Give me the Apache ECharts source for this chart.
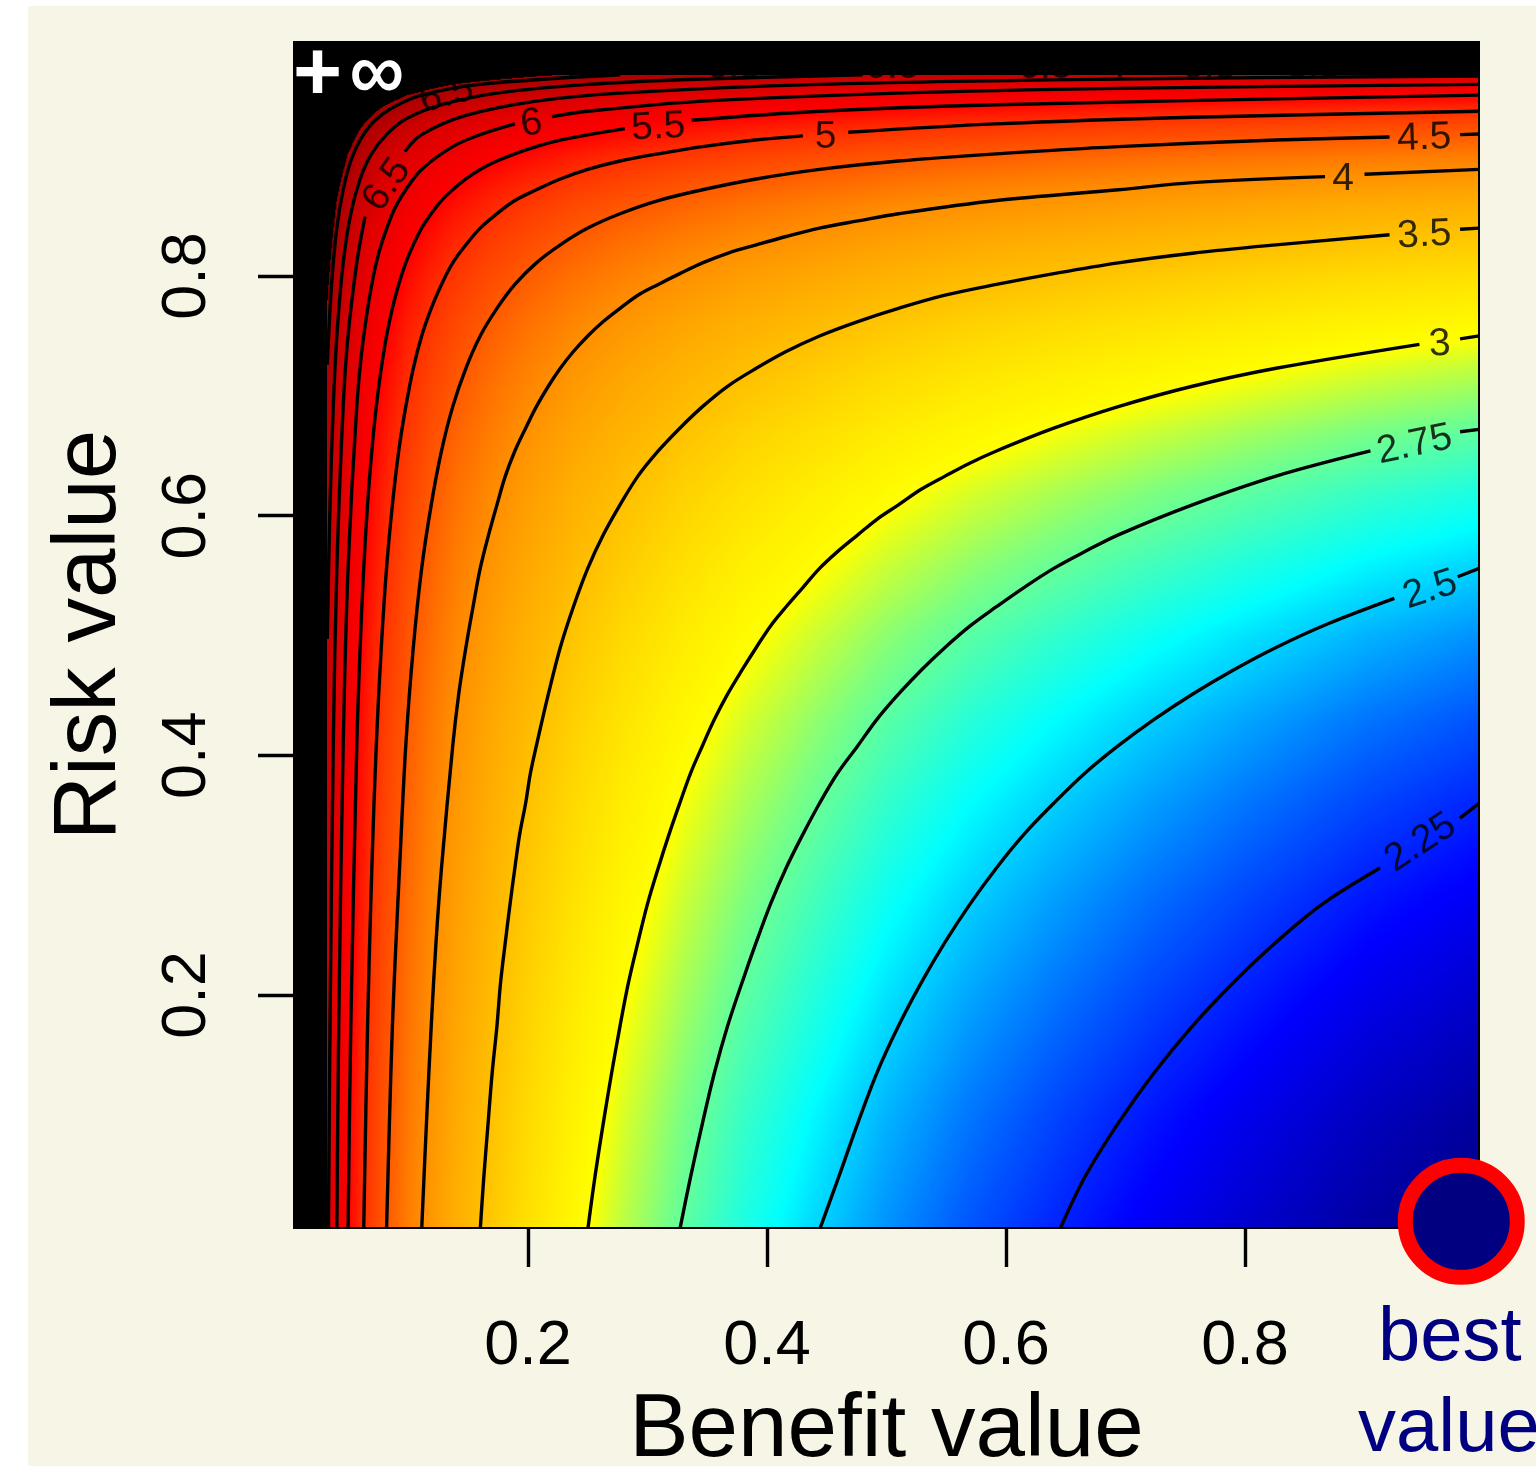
<!DOCTYPE html>
<html><head><meta charset="utf-8">
<style>html,body{margin:0;padding:0;background:#fff}
#c{position:absolute;left:0;top:0;width:1536px;height:1466px}</style>
<script src="https://cdn.jsdelivr.net/npm/echarts@6/dist/echarts.min.js"></script>
</head><body><div id="c"></div>
<script>
const xTicks=[0.2,0.4,0.6,0.8];
const yTicks=[0.2,0.4,0.6,0.8];
const heatX=[.032,.04,.05,.06,.07,.08,.1,.12,.14,.17,.2,.24,.28,.33,.38,.44,.5,.57,.64,.72,.8,.9,.996];
const heatY=[.004,.1,.2,.28,.36,.43,.5,.56,.62,.67,.72,.76,.8,.83,.86,.88,.9,.92,.93,.94,.95,.96,.968];
const heatRows=[
[6.59,6.00,5.47,5.08,4.78,4.54,4.16,3.89,3.67,3.43,3.24,3.04,2.89,2.74,2.62,2.51,2.41,2.32,2.25,2.18,2.12,2.05,2.00],
[6.64,6.05,5.52,5.13,4.83,4.59,4.21,3.94,3.72,3.48,3.29,3.09,2.94,2.79,2.67,2.56,2.46,2.37,2.30,2.23,2.17,2.10,2.05],
[6.71,6.12,5.59,5.20,4.90,4.66,4.28,4.01,3.79,3.55,3.36,3.16,3.01,2.86,2.74,2.63,2.53,2.44,2.37,2.30,2.24,2.17,2.12],
[6.77,6.18,5.65,5.26,4.96,4.72,4.34,4.07,3.85,3.61,3.42,3.22,3.07,2.92,2.80,2.69,2.59,2.50,2.43,2.36,2.30,2.23,2.18],
[6.84,6.25,5.72,5.33,5.03,4.79,4.41,4.14,3.92,3.68,3.49,3.29,3.14,2.99,2.87,2.76,2.66,2.57,2.50,2.43,2.37,2.30,2.25],
[6.91,6.32,5.79,5.40,5.10,4.86,4.48,4.21,3.99,3.75,3.56,3.36,3.21,3.06,2.94,2.83,2.73,2.64,2.57,2.50,2.44,2.37,2.32],
[7.00,6.41,5.88,5.49,5.19,4.95,4.57,4.30,4.08,3.84,3.65,3.45,3.30,3.15,3.03,2.92,2.82,2.73,2.66,2.59,2.53,2.46,2.41],
[7.10,6.51,5.98,5.59,5.29,5.05,4.67,4.40,4.18,3.94,3.75,3.55,3.40,3.25,3.13,3.02,2.92,2.83,2.76,2.69,2.63,2.56,2.51],
[7.21,6.62,6.09,5.70,5.40,5.16,4.78,4.51,4.29,4.05,3.86,3.66,3.51,3.36,3.24,3.13,3.03,2.94,2.87,2.80,2.74,2.67,2.62],
[7.33,6.74,6.21,5.82,5.52,5.28,4.90,4.63,4.41,4.17,3.98,3.78,3.63,3.48,3.36,3.25,3.15,3.06,2.99,2.92,2.86,2.79,2.74],
[7.48,6.89,6.36,5.97,5.67,5.43,5.05,4.78,4.56,4.32,4.13,3.93,3.78,3.63,3.51,3.40,3.30,3.21,3.14,3.07,3.01,2.94,2.89],
[7.63,7.04,6.51,6.12,5.82,5.58,5.20,4.93,4.71,4.47,4.28,4.08,3.93,3.78,3.66,3.55,3.45,3.36,3.29,3.22,3.16,3.09,3.04],
[7.83,7.24,6.71,6.32,6.02,5.78,5.40,5.13,4.91,4.67,4.48,4.28,4.13,3.98,3.86,3.75,3.65,3.56,3.49,3.42,3.36,3.29,3.24],
[8.02,7.43,6.90,6.51,6.21,5.97,5.59,5.32,5.10,4.86,4.67,4.47,4.32,4.17,4.05,3.94,3.84,3.75,3.68,3.61,3.55,3.48,3.43],
[8.26,7.67,7.14,6.75,6.45,6.21,5.83,5.56,5.34,5.10,4.91,4.71,4.56,4.41,4.29,4.18,4.08,3.99,3.92,3.85,3.79,3.72,3.67],
[8.48,7.89,7.36,6.97,6.67,6.43,6.05,5.78,5.56,5.32,5.13,4.93,4.78,4.63,4.51,4.40,4.30,4.21,4.14,4.07,4.01,3.94,3.89],
[8.75,8.16,7.63,7.24,6.94,6.70,6.32,6.05,5.83,5.59,5.40,5.20,5.05,4.90,4.78,4.67,4.57,4.48,4.41,4.34,4.28,4.21,4.16],
[9.13,8.54,8.01,7.62,7.32,7.08,6.70,6.43,6.21,5.97,5.78,5.58,5.43,5.28,5.16,5.05,4.95,4.86,4.79,4.72,4.66,4.59,4.54],
[9.37,8.78,8.25,7.86,7.56,7.32,6.94,6.67,6.45,6.21,6.02,5.82,5.67,5.52,5.40,5.29,5.19,5.10,5.03,4.96,4.90,4.83,4.78],
[9.67,9.08,8.55,8.16,7.86,7.62,7.24,6.97,6.75,6.51,6.32,6.12,5.97,5.82,5.70,5.59,5.49,5.40,5.33,5.26,5.20,5.13,5.08],
[10.06,9.47,8.94,8.55,8.25,8.01,7.63,7.36,7.14,6.90,6.71,6.51,6.36,6.21,6.09,5.98,5.88,5.79,5.72,5.65,5.59,5.52,5.47],
[10.59,10.00,9.47,9.08,8.78,8.54,8.16,7.89,7.67,7.43,7.24,7.04,6.89,6.74,6.62,6.51,6.41,6.32,6.25,6.18,6.12,6.05,6.00],
[11.18,10.59,10.06,9.67,9.37,9.13,8.75,8.48,8.26,8.02,7.83,7.63,7.48,7.33,7.21,7.10,7.00,6.91,6.84,6.77,6.71,6.64,6.59]
];
const colorLevels=[2.0,2.2,2.57,2.8,3.0,3.5,4.0,4.5,5.0,5.5,6.5,7.7];
const colorValues=['#00007f','#0000ff','#00ffff','#7fff7f','#ffff00','#ffc000','#ff9000','#ff5a00','#ff3000','#ff0000','#d80000','#a00000'];
const blackAbove=7.7;

const c225=[[.645,.004],[.666,.048],[.694,.093],[.724,.135],[.756,.174],[.79,.21],[.826,.244],[.865,.276],[.913,.306],null,[.98,.3475],[.996,.36]];
const c250=[[.444,.004],[.46,.048],[.476,.093],[.492,.135],[.51,.174],[.529,.21],[.549,.244],[.57,.276],[.592,.306],[.615,.334],[.64,.36],[.666,.385],[.694,.408],[.724,.43],[.756,.451],[.79,.471],[.826,.49],[.87,.51],[.925,.531],null,[.978,.549],[.996,.556]];
const c275=[[.327,.004],[.336,.048],[.346,.093],[.356,.135],[.367,.174],[.379,.21],[.391,.244],[.403,.276],[.416,.306],[.43,.334],[.444,.36],[.459,.385],[.476,.408],[.492,.43],[.51,.451],[.529,.471],[.549,.49],[.57,.508],[.592,.524],[.615,.54],[.64,.556],[.666,.57],[.694,.584],[.756,.609],[.826,.633],[.905,.654],null,[.98,.67],[.996,.672]];
const c300=[[.25,.004],[.256,.048],[.263,.093],[.27,.135],[.277,.174],[.284,.21],[.292,.244],[.3,.276],[.309,.306],[.318,.334],[.327,.36],[.336,.385],[.346,.408],[.356,.43],[.367,.451],[.379,.471],[.391,.49],[.403,.508],[.416,.524],[.43,.54],[.444,.556],[.459,.57],[.476,.584],[.492,.597],[.51,.609],[.529,.622],[.549,.633],[.57,.644],[.592,.654],[.64,.673],[.694,.691],[.756,.708],[.826,.723],[.946,.743],null,[.98,.7475],[.996,.75]];
const c350=[[.16,.004],[.163,.048],[.1666,.093],[.17,.135],[.174,.174],[.177,.21],[.181,.244],[.185,.276],[.189,.306],[.193,.334],[.198,.36],[.202,.385],[.207,.408],[.217,.451],[.227,.49],[.238,.524],[.25,.556],[.263,.584],[.277,.609],[.292,.633],[.309,.654],[.327,.673],[.346,.691],[.367,.708],[.391,.723],[.416,.737],[.444,.75],[.476,.762],[.51,.773],[.549,.784],[.592,.793],[.64,.802],[.694,.811],[.756,.819],[.826,.826],[.921,.8345],null,[.98,.839],[.996,.84]];
const c400=[[.111,.004],[.115,.093],[.119,.174],[.123,.244],[.1276,.306],[.137,.408],[.142,.451],[.148,.49],[.154,.524],[.16,.556],[.167,.584],[.174,.609],[.181,.633],[.189,.654],[.198,.673],[.207,.691],[.217,.708],[.227,.723],[.238,.737],[.25,.75],[.263,.762],[.277,.773],[.292,.784],[.309,.793],[.327,.802],[.346,.811],[.367,.819],[.391,.826],[.416,.833],[.444,.84],[.476,.846],[.51,.852],[.592,.863],[.694,.872],[.756,.878],[.867,.883],null,[.9,.885],[.996,.889]];
const c450=[[.0816,.004],[.084,.093],[.0865,.174],[.0895,.244],[.0925,.306],[.0977,.408],[.104,.49],[.111,.556],[.119,.609],[.1276,.654],[.137,.691],[.148,.723],[.16,.75],[.174,.773],[.189,.793],[.207,.811],[.227,.826],[.25,.84],[.277,.852],[.309,.863],[.346,.872],[.391,.881],[.444,.889],[.51,.896],[.592,.902],[.694,.908],[.826,.9135],[.921,.916],null,[.98,.918],[.996,.9185]];
const c500=[[.0625,.004],[.0657,.174],[.0693,.306],[.073,.408],[.0772,.49],[.0816,.556],[.0865,.609],[.0918,.654],[.0977,.691],[.104,.723],[.111,.75],[.119,.773],[.1276,.793],[.137,.811],[.148,.826],[.16,.84],[.174,.852],[.189,.863],[.207,.872],[.227,.881],[.25,.889],[.277,.896],[.309,.902],[.346,.908],[.39,.9135],[.43,.917],null,[.468,.92],[.592,.927],[.756,.9325],[.996,.9375]];
const c550=[[.0494,.004],[.0517,.174],[.0567,.408],[.0595,.49],[.0625,.556],[.0657,.609],[.0693,.654],[.073,.691],[.0772,.723],[.0816,.75],[.0865,.773],[.0918,.793],[.0977,.811],[.104,.826],[.111,.84],[.119,.852],[.1276,.863],[.137,.872],[.148,.881],[.16,.889],[.174,.896],[.189,.902],[.207,.908],[.227,.9135],[.281,.923],null,[.337,.93],[.444,.9375],[.592,.943],[.996,.951]];
const c600=[[.04,.004],[.0416,.174],[.0453,.408],[.0494,.556],[.0567,.691],[.0625,.75],[.073,.811],[.0865,.852],[.0977,.872],[.111,.889],[.137,.908],[.16,.918],[.189,.927],null,[.22,.933],[.25,.9375],[.346,.946],[.51,.9527],[.694,.9566],[.996,.96]];
const c650=[[.033,.004],[.0343,.174],[.037,.408],[.04,.556],[.0453,.691],[.0494,.75],[.0567,.811],[.0636,.8496],null,[.097,.904],[.111,.918],[.148,.934],[.207,.946],[.277,.9527],[.444,.96],[.694,.9644],[.996,.967]];
const c700=[[.032,.497],[.0343,.609],[.037,.691],[.04,.75],[.0453,.811],[.0517,.852],[.0595,.881],[.069,.902],[.0816,.918],[.0977,.931],[.1276,.943],[.174,.9527],[.25,.96],[.346,.9644],[.48,.968]];
const c750=[[.032,.726],[.0356,.793],[.04,.84],[.0453,.872],[.0517,.896],[.0595,.9135],[.071,.929],[.0865,.9405],[.111,.951],[.16,.96],[.277,.968]];
const contours=[c225,c250,c275,c300,c350,c400,c450,c500,c550,c600,c650,c700,c750];

const labelText=['2.25','2.5','2.75','3','3.5','4','4.5','5','5.5','6','6.5','6.5','7','6.5','7','6.5','6.5','7','6.5','6.5','6.5'];
const labelX=[.947,.955,.942,.963,.950,.882,.950,.449,.309,.203,.082,.132,.238,.372,.438,.505,.633,.697,.77,.857,.945];
const labelY=[.327,.538,.659,.743,.834,.881,.915,.916,.924,.927,.876,.951,.974,.974,.974,.974,.974,.974,.974,.974,.974];
const labelAngle=[33,18,12,3,3,0,2,0,3,8,55,15,0,0,0,0,0,0,0,0,0];
const bestPoint=[[0.981,0.011]];

const sans='"Liberation Sans",Arial,sans-serif';
const chart=echarts.init(document.getElementById('c'),null,{renderer:'canvas'});

function colorTable(){
  const cv=document.createElement('canvas');cv.width=2048;cv.height=1;
  const g=cv.getContext('2d');
  const lo=colorLevels[0],hi=colorLevels[colorLevels.length-1];
  const gr=g.createLinearGradient(0,0,2048,0);
  colorLevels.forEach((l,i)=>gr.addColorStop((l-lo)/(hi-lo),colorValues[i]));
  g.fillStyle=gr;g.fillRect(0,0,2048,1);
  return {d:g.getImageData(0,0,2048,1).data,lo,hi};
}
function locate(arr,v){let i=0;while(i<arr.length-2&&arr[i+1]<v)i++;return [i,(v-arr[i])/(arr[i+1]-arr[i])];}
function fieldCanvas(w,h){
  const cv=document.createElement('canvas');cv.width=w;cv.height=h;
  const g=cv.getContext('2d');const img=g.createImageData(w,h);const T=colorTable();
  const xl=heatX[0],xr=heatX[heatX.length-1],yb=heatY[0],yt=heatY[heatY.length-1];
  const cols=[];for(let i=0;i<w;i++)cols.push(locate(heatX,xl+(xr-xl)*(i+.5)/w));
  for(let j=0;j<h;j++){
    const [r,t]=locate(heatY,yt-(yt-yb)*(j+.5)/h);
    const R0=heatRows[r],R1=heatRows[r+1];
    for(let i=0;i<w;i++){
      const [c,s]=cols[i];
      const v=(R0[c]*(1-s)+R0[c+1]*s)*(1-t)+(R1[c]*(1-s)+R1[c+1]*s)*t;
      const o=(j*w+i)*4;
      if(v>blackAbove){img.data[o+3]=0;continue;}
      const k=Math.max(0,Math.min(2047,Math.round((v-T.lo)/(T.hi-T.lo)*2047)))*4;
      img.data[o]=T.d[k];img.data[o+1]=T.d[k+1];img.data[o+2]=T.d[k+2];img.data[o+3]=255;
    }
  }
  g.putImageData(img,0,0);return cv;
}
const field=fieldCanvas(1150,1150);

const contourSeries=contours.map(pts=>({
  type:'line',data:pts.map(p=>p?p:[null,null]),showSymbol:false,symbol:'none',smooth:0.35,
  connectNulls:false,silent:true,z:5,lineStyle:{color:'#000',width:3.4},animation:false
}));

chart.setOption({
  animation:false,
  backgroundColor:'rgba(0,0,0,0)',
  grid:{left:295,top:43,width:1183,height:1184,show:true,backgroundColor:'#000',borderColor:'#000',borderWidth:4,outerBoundsMode:'none',containLabel:false},
  xAxis:{type:'value',min:.005,max:.995,name:'Benefit value',nameLocation:'middle',nameGap:160,
    nameTextStyle:{fontFamily:sans,fontSize:89,color:'#000'},
    axisLine:{show:true,lineStyle:{color:'#000',width:4}},
    axisTick:{show:true,length:40,lineStyle:{color:'#000',width:3.4},customValues:xTicks},
    axisLabel:{show:true,margin:88,fontFamily:sans,fontSize:63,color:'#000',customValues:xTicks,formatter:v=>v.toFixed(1)},
    splitLine:{show:false}},
  yAxis:{type:'value',min:.0063,max:.9945,name:'Risk value',nameLocation:'middle',nameGap:160,
    nameTextStyle:{fontFamily:sans,fontSize:89,color:'#000'},
    axisLine:{show:true,lineStyle:{color:'#000',width:4}},
    axisTick:{show:true,length:37,lineStyle:{color:'#000',width:3.4},customValues:yTicks},
    axisLabel:{show:true,rotate:90,margin:76,fontFamily:sans,fontSize:63,color:'#000',customValues:yTicks,formatter:v=>v.toFixed(1)},
    splitLine:{show:false}},
  graphic:[
    {type:'rect',z:-10,shape:{x:0,y:0,width:1536,height:1466},style:{fill:'#fff'}},
    {type:'rect',z:-9,shape:{x:28,y:6,width:1508,height:1460},style:{fill:'#f7f5e6'}},
    {type:'text',z:50,left:293,top:35,style:{text:'+',fill:'#fff',fontFamily:sans,fontSize:84,fontWeight:'bold'}},
    {type:'text',z:50,left:349,top:37,style:{text:'∞',fill:'#fff',stroke:'#fff',lineWidth:1.5,fontFamily:sans,fontSize:76}},
    {type:'text',z:50,left:1378,top:1301,style:{text:'best',fill:'#000080',fontFamily:sans,fontSize:76}},
    {type:'text',z:50,left:1358,top:1392,style:{text:'value',fill:'#000080',fontFamily:sans,fontSize:76}}
  ],
  series:[
    {type:'custom',coordinateSystem:'cartesian2d',silent:true,z:1,clip:true,data:[[heatX[0],heatY[heatY.length-1]]],
      renderItem:(p,api)=>{
        const a=api.coord([heatX[0],heatY[heatY.length-1]]);
        const b=api.coord([heatX[heatX.length-1],heatY[0]]);
        return {type:'image',style:{image:field,x:a[0],y:a[1],width:b[0]-a[0],height:b[1]-a[1]}};
      }},
    ...contourSeries,
    {type:'scatter',silent:true,z:8,symbolSize:1,itemStyle:{color:'rgba(0,0,0,0)'},clip:true,
      data:labelText.map((t,i)=>({value:[labelX[i],labelY[i]],name:t,
        label:{show:true,position:'inside',formatter:t,rotate:labelAngle[i],fontFamily:sans,fontSize:39,color:'#000'}}))},
    {type:'scatter',silent:true,z:20,clip:false,symbol:'circle',symbolSize:112,data:bestPoint,
      itemStyle:{color:'#000080',borderColor:'#ff0000',borderWidth:15,opacity:1}}
  ]
});
</script></body></html>
